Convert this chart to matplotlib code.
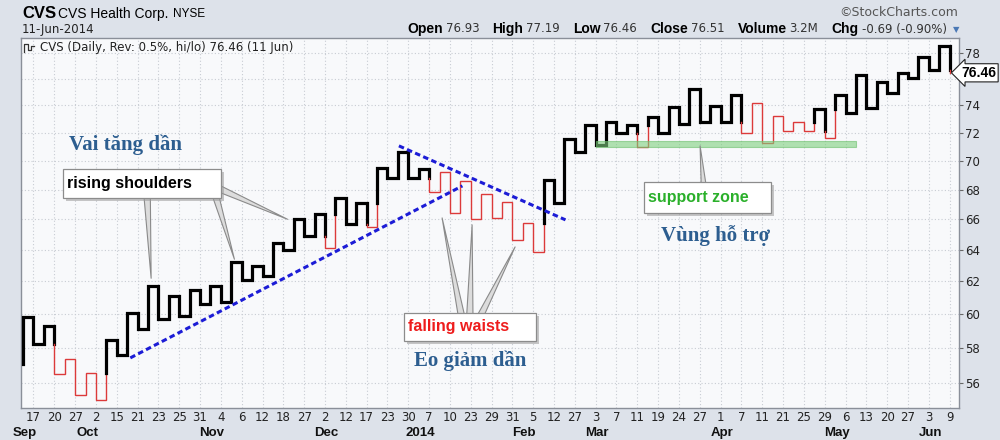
"""Kagi chart of CVS (StockCharts style) with shoulder/waist annotations."""

import matplotlib

matplotlib.use("Agg")
import matplotlib.pyplot as plt
from matplotlib import transforms
from matplotlib.lines import Line2D
from matplotlib.patches import Rectangle
from matplotlib.ticker import NullLocator

# --- data --------------------------------------------------------------------
kagi_start = 57.08
kagi_turns = [
    59.84, 58.24, 59.30, 56.51, 57.37, 55.33, 56.57, 55.05, 58.47, 57.60,
    60.08, 59.13, 61.73, 59.72, 61.11, 59.90, 61.48, 60.63, 61.73, 60.75,
    63.23, 62.10, 62.98, 62.35, 64.45, 64.00, 66.03, 64.91, 66.36, 64.13,
    67.43, 65.69, 67.10, 65.50, 69.49, 68.80, 70.62, 68.80, 69.42, 67.84,
    69.22, 66.43, 68.59, 66.03, 67.71, 66.09, 67.17, 64.65, 65.76, 63.87,
    68.66, 67.10, 71.55, 70.62, 72.56, 71.12, 72.78, 71.98, 72.56, 70.97,
    73.15, 71.98, 73.88, 72.63, 75.23, 72.78, 73.96, 72.78, 74.78, 71.98,
    74.18, 71.26, 73.22, 72.13, 72.78, 72.13, 73.73, 71.62, 74.78, 73.44,
    76.29, 73.81, 75.76, 74.93, 76.45, 76.07, 77.69, 76.65, 78.55, 76.46,
]
day_labels = [
    "17", "20", "27", "2", "15", "21", "23", "25", "31", "4", "6", "12", "18",
    "27", "2", "12", "17", "23", "30", "7", "10", "23", "29", "31", "5", "12",
    "27", "3", "7", "11", "19", "24", "27", "1", "7", "11", "21", "25", "29",
    "6", "13", "20", "27", "3", "9",
]
month_names = ["Sep", "Oct", "Nov", "Dec", "2014", "Feb", "Mar", "Apr", "May", "Jun"]
month_cols = [0, 6, 18, 29, 38, 48, 55, 67, 78, 87]
price_ticks = [56, 58, 60, 62, 64, 66, 68, 70, 72, 74, 76, 78]
last_price = 76.46

info_pairs = [
    ("Open", "76.93"), ("High", "77.19"), ("Low", "76.46"),
    ("Close", "76.51"), ("Volume", "3.2M"), ("Chg", "-0.69 (-0.90%)"),
]

# trend lines and support band (column index, price)
rising_cols = [10.3, 42.2]
rising_prices = [57.42, 68.25]
falling_cols = [36.1, 52.1]
falling_prices = [71.05, 65.96]
support_cols = [55.0, 80.0]
support_low, support_high = 70.97, 71.40

# callouts: box corners, text anchor, pointer bases and tips
rs_box = (3.84, 19.02, 67.43, 69.43)
rs_text = (4.2, 68.42)
rs_bases = [(11.9, 67.8), (18.4, 67.8), (18.7, 68.1)]
rs_tips = [(12.3, 62.2), (20.3, 63.4), (25.4, 66.0)]

fw_box = (36.6, 49.28, 58.41, 60.08)
fw_text = (37.0, 59.24)
fw_bases = [(42.2, 59.6), (42.9, 59.6), (43.7, 59.6)]
fw_tips = [(40.25, 66.09), (43.13, 65.63), (47.26, 64.19)]

sz_box = (59.65, 71.85, 66.43, 68.52)
sz_text = (60.0, 67.47)
sz_bases = [(65.5, 67.3)]
sz_tips = [(65.03, 71.05)]

vn_labels = [("Vai tăng dần", 9.8, 71.12), ("Eo giảm dần", 42.9, 57.25),
             ("Vùng hỗ trợ", 66.5, 64.91)]


def kagi_runs(start, turns):
    """Split the kagi path into runs of thick (yang) and thin (yin) line."""
    runs = []
    thick = True
    cur = [(0, start)]
    last_high = last_low = None
    prev = start
    for i, p in enumerate(turns):
        if p > prev:
            if not thick and last_high is not None and p > last_high:
                cur.append((i, last_high))
                runs.append((thick, cur))
                cur = [(i, last_high)]
                thick = True
            last_high = p
        else:
            if thick and last_low is not None and p < last_low:
                cur.append((i, last_low))
                runs.append((thick, cur))
                cur = [(i, last_low)]
                thick = False
            last_low = p
        cur.append((i, p))
        if i < len(turns) - 1:
            cur.append((i + 1, p))
        prev = p
    runs.append((thick, cur))
    return runs


def callout(ax, box, text_xy, text, color, bases, tips):
    x0, x1, y0, y1 = box
    for (bx, by), (tx, ty) in zip(bases, tips):
        ax.annotate("", xy=(tx, ty), xytext=(bx, by), zorder=5,
                    arrowprops=dict(arrowstyle="wedge,tail_width=0.4,shrink_factor=0.5",
                                    fc="#dcdcdc", ec="#8a8a8a", lw=0.8,
                                    shrinkA=0, shrinkB=0, mutation_scale=12))
    shadow = transforms.offset_copy(ax.transData, fig=ax.figure, x=3, y=-3, units="dots")
    ax.add_patch(Rectangle((x0, y0), x1 - x0, y1 - y0, transform=shadow,
                           fc="#9a9a9a", ec="none", alpha=0.55, zorder=5.5))
    ax.add_patch(Rectangle((x0, y0), x1 - x0, y1 - y0, fc="white",
                           ec="#8c8c8c", lw=0.9, zorder=6))
    ax.text(text_xy[0], text_xy[1], text, ha="left", va="center", color=color,
            fontsize=11.5, fontweight="bold", family="Liberation Sans", zorder=7)


fig = plt.figure(figsize=(10, 4.4), dpi=100, facecolor="#dde2ea")
ax = fig.add_axes([0.021, 0.0727, 0.938, 0.8409], facecolor="#f8f9fb")

for thick, pts in kagi_runs(kagi_start, kagi_turns):
    xs = [p[0] for p in pts]
    ys = [p[1] for p in pts]
    if thick:
        ax.plot(xs, ys, color="black", lw=2.3, solid_joinstyle="miter",
                solid_capstyle="projecting", zorder=3)
    else:
        ax.plot(xs, ys, color="#dc3a3a", lw=1.0, solid_joinstyle="miter", zorder=3)

ax.plot(rising_cols, rising_prices, color="#1c1cd6", lw=2.2, dashes=[1.8, 1.1], zorder=4)
ax.plot(falling_cols, falling_prices, color="#1c1cd6", lw=2.2, dashes=[1.8, 1.1], zorder=4)
ax.fill_between(support_cols, support_low, support_high, color="#7fd07f",
                alpha=0.6, lw=0.8, edgecolor="#6cc06c", zorder=4)

callout(ax, rs_box, rs_text, "rising shoulders", "black", rs_bases, rs_tips)
callout(ax, fw_box, fw_text, "falling waists", "#ee1c1c", fw_bases, fw_tips)
callout(ax, sz_box, sz_text, "support zone", "#2bb02b", sz_bases, sz_tips)

for text, cx, cy in vn_labels:
    ax.text(cx, cy, text, ha="center", va="center", color="#2d5e90", fontsize=15,
            fontweight="bold", family="Liberation Serif", zorder=7)

# axes
ax.set_yscale("log")
ax.set_ylim(54.60, 79.18)
ax.set_xlim(-0.2, 89.9)
ax.set_yticks(price_ticks)
# the 76 label sits under the last-price tag in the original
ax.set_yticklabels(["" if t == 76 else str(t) for t in price_ticks])
ax.yaxis.set_minor_locator(NullLocator())
ax.yaxis.tick_right()
ax.tick_params(axis="y", length=3, width=0.8, color="#666666", pad=1.5,
               labelsize=8.5, labelcolor="#222222")
ax.set_xticks(range(1, 90, 2))
ax.set_xticklabels(day_labels)
ax.tick_params(axis="x", length=0, pad=2, labelsize=8.5, labelcolor="#222222")
ax.grid(True, color="#c8ccd3", ls=(0, (1, 2)), lw=0.8)
ax.set_axisbelow(True)
for sp in ax.spines.values():
    sp.set_color("#8a8f99")
    sp.set_linewidth(1.0)

month_tf = transforms.blended_transform_factory(ax.transData, ax.transAxes)
for name, col in zip(month_names, month_cols):
    ax.text(col + 0.15, -0.067, name, transform=month_tf, ha="center", va="center",
            fontsize=9.5, fontweight="bold", family="Liberation Sans", color="#111111")

# last price tag
price_tf = transforms.blended_transform_factory(ax.transAxes, ax.transData)
ax.annotate(f"{last_price:.2f}", xy=(1.0, last_price), xycoords=price_tf,
            xytext=(1.5, 0), textcoords="offset points", ha="left", va="center",
            fontsize=10, fontweight="bold", family="Liberation Sans", color="black",
            annotation_clip=False,
            bbox=dict(boxstyle="larrow,pad=0.15", fc="white", ec="#222222", lw=0.8),
            zorder=10)

# legend line inside the plot
ax.text(0.0203, 0.9757, "CVS (Daily, Rev: 0.5%, hi/lo) 76.46 (11 Jun)",
        transform=ax.transAxes, ha="left", va="center", fontsize=8.5, color="#222222")
icon_x = [24, 24, 28, 28, 31, 31, 34]
icon_y = [52, 44, 44, 50, 50, 46, 46]
fig.add_artist(Line2D([x / 1000 for x in icon_x], [1 - y / 440 for y in icon_y],
                      transform=fig.transFigure, color="#333333", lw=0.9))

# header
fig.text(0.022, 1 - 14 / 440, "CVS", fontsize=12, fontweight="bold",
         family="Liberation Sans", va="center")
fig.text(0.058, 1 - 14 / 440, "CVS Health Corp.", fontsize=10,
         family="Liberation Sans", va="center")
fig.text(0.173, 1 - 14 / 440, "NYSE", fontsize=8.5, family="Liberation Sans", va="center")
fig.text(0.022, 1 - 29 / 440, "11-Jun-2014", fontsize=8.5, va="center", color="#222222")
fig.text(0.958, 1 - 13 / 440, "©StockCharts.com", fontsize=9, ha="right",
         va="center", color="#555555")

renderer = fig.canvas.get_renderer()
x = 407.0
for label, value in info_pairs:
    t = fig.text(x / 1000, 1 - 29 / 440, label, fontsize=10, fontweight="bold",
                 family="Liberation Sans", va="center")
    x = t.get_window_extent(renderer).x1 + 3
    t = fig.text(x / 1000, 1 - 29 / 440, value, fontsize=8.5, va="center", color="#333333")
    x = t.get_window_extent(renderer).x1 + 13
fig.text(0.953, 1 - 30 / 440, "▼", fontsize=6, color="#4a78b5", va="center")

fig.savefig("out.png", dpi=100, facecolor=fig.get_facecolor())
